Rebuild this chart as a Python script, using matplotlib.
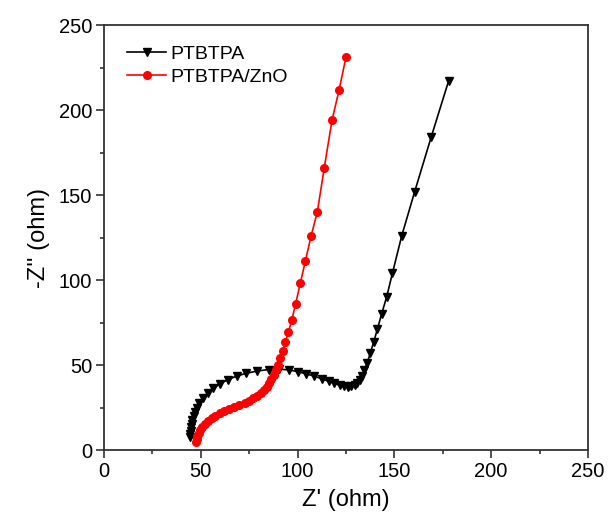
import numpy as np
import matplotlib.pyplot as plt
from matplotlib.ticker import MultipleLocator

plt.rcParams['font.family'] = ['Liberation Sans', 'DejaVu Sans']

# PTBTPA (triangulos pretos)
z_re_ptbtpa = [44.5, 44.6, 44.8, 45.0, 45.3, 45.7, 46.3, 47.0, 47.9, 49.2, 51.0, 53.5,
               56.5, 60.0, 64.0, 68.5, 73.5, 79.0, 85.0, 90.5, 95.5, 100.0, 104.5,
               108.5, 112.5, 116.0, 119.0, 121.8, 124.0, 126.0, 127.8, 129.5, 130.8,
               132.0, 133.2, 134.5, 136.0, 137.6, 139.3, 141.2, 143.4, 146.0, 149.0,
               153.8, 160.5, 169.0, 178.0]
z_im_ptbtpa = [7.5, 9.5, 11.5, 13.5, 15.5, 17.6, 19.8, 22.2, 24.6, 27.5, 30.5, 33.5,
               36.3, 39.0, 41.5, 43.5, 45.2, 46.5, 47.4, 47.6, 47.2, 46.2, 44.9,
               43.5, 42.0, 40.5, 39.2, 38.2, 37.6, 37.4, 37.6, 38.2, 39.2, 41.0,
               43.5, 47.0, 51.5, 57.0, 63.5, 71.0, 80.0, 90.0, 104.0, 126.0, 152.0,
               184.0, 217.0]

# PTBTPA/ZnO (circulos vermelhos)
z_re_zno = [47.7, 47.9, 48.3, 48.9, 49.7, 50.8, 52.2, 53.8, 55.6, 57.6, 59.8, 62.2,
            64.7, 67.3, 70.0, 72.6, 75.0, 77.2, 79.2, 81.0, 82.6, 84.0, 85.3, 86.5,
            87.6, 88.7, 89.8, 91.0, 92.3, 93.7, 95.3, 97.0, 99.0, 101.4, 104.0,
            107.0, 110.2, 113.8, 117.8, 121.5, 125.0]
z_im_zno = [5.0, 6.5, 8.2, 10.0, 11.8, 13.6, 15.4, 17.1, 18.7, 20.2, 21.6, 22.9,
            24.1, 25.3, 26.5, 27.8, 29.1, 30.5, 32.0, 33.6, 35.3, 37.2, 39.3, 41.6,
            44.2, 47.0, 50.2, 54.0, 58.3, 63.5, 69.5, 76.5, 86.0, 98.0, 111.0,
            126.0, 140.0, 166.0, 194.0, 212.0, 231.0]

fig = plt.figure(figsize=(6.08, 5.21), dpi=100)
ax = fig.add_axes([0.171, 0.136, 0.796, 0.816])

ax.plot(z_re_ptbtpa, z_im_ptbtpa, 'k-', marker='v', markersize=6, linewidth=1.2, label='PTBTPA')
ax.plot(z_re_zno, z_im_zno, '-', color='#ff0000', marker='o', markersize=5.5, linewidth=1.2,
        label='PTBTPA/ZnO')

ax.set_xlim(0, 250)
ax.set_ylim(0, 250)
ax.xaxis.set_major_locator(MultipleLocator(50))
ax.yaxis.set_major_locator(MultipleLocator(50))
ax.xaxis.set_minor_locator(MultipleLocator(25))
ax.yaxis.set_minor_locator(MultipleLocator(25))
ax.tick_params(which='major', direction='out', length=5.5, width=1.2, labelsize=14.5,
               colors='#333333', pad=3)
ax.tick_params(which='minor', direction='out', length=3, width=1.2, colors='#333333')
ax.tick_params(labelcolor='black')
for s in ax.spines.values():
    s.set_linewidth(1.3)
    s.set_color('#333333')

ax.set_xlabel("Z' (ohm)", fontsize=17, labelpad=6)
ax.set_ylabel("-Z'' (ohm)", fontsize=17, labelpad=6)

ax.legend(loc='upper left', frameon=False, fontsize=14, handlelength=2.0,
          handletextpad=0.2, labelspacing=0.3, borderaxespad=0.3, bbox_to_anchor=(0.02, 0.985))

fig.savefig('out.png', dpi=100)
